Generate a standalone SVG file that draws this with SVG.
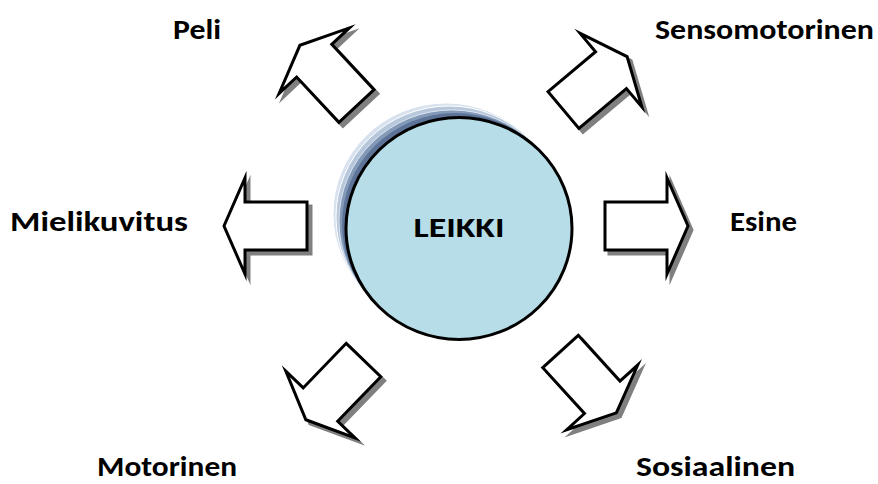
<svg xmlns="http://www.w3.org/2000/svg" xmlns:xlink="http://www.w3.org/1999/xlink" width="878" height="484" viewBox="0 0 878 484">
<style>
.lbl{font-family:Carlito,Lato,"Liberation Sans",sans-serif;font-weight:bold;font-size:29px;fill:#000}
.arr{fill:#fff;stroke:#000;stroke-width:3;stroke-linejoin:miter;stroke-miterlimit:10}
.shd{fill:#808080;stroke:#808080;stroke-width:3;stroke-linejoin:miter;stroke-miterlimit:10}
</style>
<defs>
<path id="ar" d="M0,-24 L62,-24 L62,-48 L83,0 L62,48 L62,24 L0,24 Z"/>
</defs>
<rect width="878" height="484" fill="#fff"/>
<g id="connectors">
<g id="arrow-peli">
<use xlink:href="#ar" class="shd" transform="translate(360.5,110) rotate(-133)"/>
<use xlink:href="#ar" class="arr" transform="translate(356.5,106) rotate(-133)"/>
</g>
<g id="arrow-sensomotorinen">
<use xlink:href="#ar" class="shd" transform="translate(567.5,114) rotate(-40)"/>
<use xlink:href="#ar" class="arr" transform="translate(563.5,110) rotate(-40)"/>
</g>
<g id="arrow-mielikuvitus">
<use xlink:href="#ar" class="shd" transform="translate(311,230) rotate(180)"/>
<use xlink:href="#ar" class="arr" transform="translate(307,226) rotate(180)"/>
</g>
<g id="arrow-esine">
<use xlink:href="#ar" class="shd" transform="translate(609,230)"/>
<use xlink:href="#ar" class="arr" transform="translate(605,226)"/>
</g>
<g id="arrow-motorinen">
<use xlink:href="#ar" class="shd" transform="translate(367.5,364) rotate(134)"/>
<use xlink:href="#ar" class="arr" transform="translate(363.5,360) rotate(134)"/>
</g>
<g id="arrow-sosiaalinen">
<use xlink:href="#ar" class="shd" transform="translate(564.5,355.5) rotate(47.7)"/>
<use xlink:href="#ar" class="arr" transform="translate(560.5,351.5) rotate(47.7)"/>
</g>
</g>
<g id="leikki">
<ellipse cx="446" cy="214" rx="113" ry="111" fill="#d8e2ee" stroke="#fff" stroke-width="1"/>
<ellipse cx="449" cy="217" rx="113" ry="111" fill="#b8c8dc" stroke="#fff" stroke-width="1"/>
<ellipse cx="452" cy="221" rx="113" ry="111" fill="#8399b8" stroke="#e8eef5" stroke-width="0.8"/>
<ellipse cx="455" cy="224" rx="113" ry="111" fill="#5d7397"/>
<ellipse cx="459" cy="228.5" rx="113" ry="111" fill="#b7dde8" stroke="#000" stroke-width="3"/>
<text x="459" y="237" text-anchor="middle" class="lbl" font-size="33" textLength="91" lengthAdjust="spacingAndGlyphs">LEIKKI</text>
</g>
<g id="peli"><text x="173" y="39" class="lbl" textLength="48" lengthAdjust="spacingAndGlyphs">Peli</text></g>
<g id="sensomotorinen"><text x="655" y="39" class="lbl" textLength="219" lengthAdjust="spacingAndGlyphs">Sensomotorinen</text></g>
<g id="mielikuvitus"><text x="10" y="231" class="lbl" textLength="178" lengthAdjust="spacingAndGlyphs">Mielikuvitus</text></g>
<g id="esine"><text x="730" y="231" class="lbl" textLength="67" lengthAdjust="spacingAndGlyphs">Esine</text></g>
<g id="motorinen"><text x="97" y="476" class="lbl" textLength="140" lengthAdjust="spacingAndGlyphs">Motorinen</text></g>
<g id="sosiaalinen"><text x="636" y="476" class="lbl" textLength="159" lengthAdjust="spacingAndGlyphs">Sosiaalinen</text></g>
</svg>
